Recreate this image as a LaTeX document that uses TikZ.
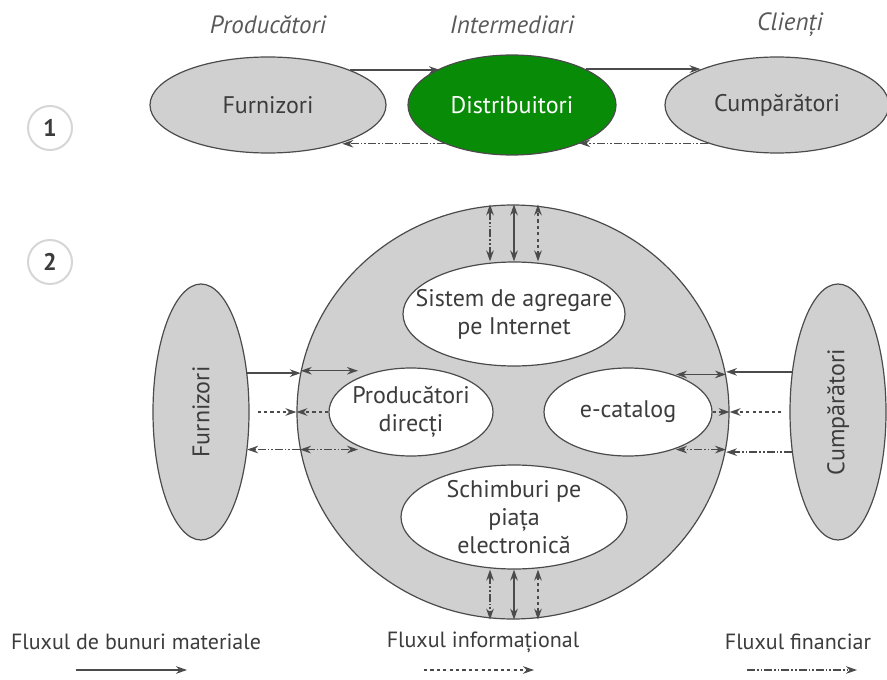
\documentclass[tikz,border=0pt]{standalone}
\usepackage{fontspec}
\setmainfont{PT Sans}
\usetikzlibrary{arrows.meta,shapes.geometric}

\definecolor{bubble}{RGB}{208,208,208}
\definecolor{rim}{RGB}{75,75,75}
\definecolor{ink}{RGB}{60,60,60}
\definecolor{distgreen}{RGB}{8,140,8}
\definecolor{ringgray}{RGB}{214,214,214}

\begin{document}
\begin{tikzpicture}[x=0.5pt,y=-0.5pt,
    actor/.style={ellipse,draw=rim,line width=0.6pt,fill=bubble,inner sep=0pt,text=ink,font=\large},
    hub/.style={ellipse,draw=rim,line width=0.6pt,fill=white,inner sep=0pt},
    hubtext/.style={align=center,text=ink,font=\large,inner sep=0pt},
    mat/.style={draw=rim,line width=0.65pt,-{Stealth[length=5.5pt,width=3.8pt]}},
    info/.style={mat,dash pattern=on 1.6pt off 1.6pt},
    fin/.style={mat,dash pattern=on 4pt off 1pt on 0.8pt off 1pt on 0.8pt off 1pt},
    both/.style={{Stealth[length=5.5pt,width=3.8pt]}-{Stealth[length=5.5pt,width=3.8pt]}},
    tag/.style={circle,draw=ringgray,line width=1pt,minimum size=22pt,inner sep=0pt,text=ink,font=\large\bfseries},
    head/.style={text=ink!85,font=\fontsize{12.5}{15}\selectfont\itshape},
    legend/.style={text=ink,font=\fontsize{11}{13}\selectfont}]
  \useasboundingbox (0,0) rectangle (887,679);

  % Column titles
  \node[head] (tprod) at (268,25) {Producători};
  \node[head] (tint) at (512,25) {Intermediari};
  \node[head] (tcli) at (790,25) {Clienți};

  % Scheme 1
  \node[tag] (n1) at (50,128) {1};
  \node[actor,minimum width=118pt,minimum height=48pt] (f1) at (268,105) {Furnizori};
  \node[actor,fill=distgreen,text=white,minimum width=104pt,minimum height=50pt] (d1) at (512,105) {Distribuitori};
  \node[actor,minimum width=112pt,minimum height=48pt] (c1) at (777,105) {Cumpărători};

  \draw[mat] (f1.23.4) -- (f1.23.4 -| d1.153.8);
  \draw[mat] (d1.26.2) -- (d1.26.2 -| c1.155.4);
  \draw[fin] (d1.210.9) -- (d1.210.9 -| f1.-27.8);
  \draw[fin] (c1.209) -- (c1.209 -| d1.-30.9);

  % Scheme 2
  \node[tag] (n2) at (50,262) {2};
  \node[actor,minimum width=216pt,minimum height=207pt] (B) at (513,412) {};
  \node[hub,minimum width=111pt,minimum height=52pt,
        label={[hubtext]center:Sistem de agregare\\pe Internet}] (s) at (514,314) {};
  \node[hub,minimum width=82pt,minimum height=44pt,
        label={[hubtext]center:Producători\\direcți}] (p) at (411,412) {};
  \node[hub,minimum width=84pt,minimum height=44pt,
        label={[hubtext]center:e-catalog}] (e) at (628,412) {};
  \node[hub,minimum width=113pt,minimum height=52pt,
        label={[hubtext]center:Schimburi pe\\piața\\electronică}] (x) at (514,517) {};
  \node[actor,minimum width=48pt,minimum height=128pt] (f2) at (201,412) {\rotatebox{90}{Furnizori}};
  \node[actor,minimum width=48pt,minimum height=128pt] (c2) at (838,412) {\rotatebox{90}{Cumpărători}};

  \coordinate (pin) at (358,0);
  \coordinate (ein) at (676,0);

  % left side
  \draw[mat] (f2.40.5) -- (f2.40.5 -| B.169.6);
  \draw[info,shorten <=4pt] (f2.east) -- (B.west);
  \draw[fin] (B.190.7) -- (B.190.7 -| f2.-41.3);
  \draw[mat,both] (B.169.6) -- (B.169.6 -| pin);
  \draw[info] (p.west) -- (B.west);
  \draw[fin,both] (B.190.7) -- (B.190.7 -| pin);

  % right side
  \draw[mat] (c2.139.5) -- (c2.139.5 -| B.10.4);
  \draw[info,shorten <=4pt] (c2.west) -- (B.east);
  \draw[fin] (c2.221.3) -- (c2.221.3 -| B.-10.7);
  \draw[mat,both] (B.10.4) -- (B.10.4 -| ein);
  \draw[info] (e.east) -- (B.east);
  \draw[fin,both] (B.-10.7) -- (B.-10.7 -| ein);

  % top and bottom
  \draw[fin,both] ([xshift=-12pt]s.north) -- ([xshift=-12pt]s.north |- B.north);
  \draw[mat,both] (s.north) -- (s.north |- B.north);
  \draw[info,both] ([xshift=12pt]s.north) -- ([xshift=12pt]s.north |- B.north);
  \draw[fin,both] ([xshift=-12pt]x.south) -- ([xshift=-12pt]x.south |- B.south);
  \draw[mat,both] (x.south) -- (x.south |- B.south);
  \draw[info,both] ([xshift=12pt]x.south) -- ([xshift=12pt]x.south |- B.south);

  % Legend
  \node[legend] (lmat) at (136,642) {Fluxul de bunuri materiale};
  \node[legend] (linf) at (483,642) {Fluxul informațional};
  \node[legend] (lfin) at (798,642) {Fluxul financiar};
  \coordinate (m0) at (76,670);  \coordinate (m1) at (187,670);
  \coordinate (i0) at (424,670); \coordinate (i1) at (534,670);
  \coordinate (c0) at (747,670); \coordinate (c1e) at (857,670);
  \draw[mat] (m0) -- (m1);
  \draw[info] (i0) -- (i1);
  \draw[fin] (c0) -- (c1e);
\end{tikzpicture}
\end{document}
